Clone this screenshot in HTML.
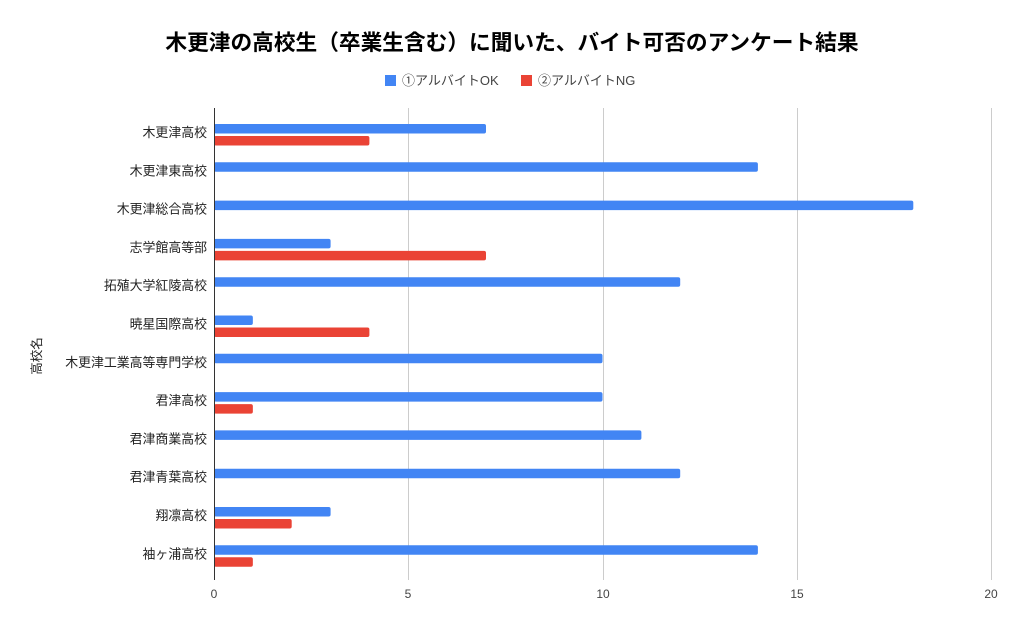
<!DOCTYPE html>
<html><head><meta charset="utf-8"><style>
body{margin:0;background:#fff;}
text{font-family:"Liberation Sans","Noto Sans CJK JP",sans-serif;}
</style></head><body>
<svg width="1024" height="633" xmlns="http://www.w3.org/2000/svg">
<rect width="1024" height="633" fill="#fff"/>
<text x="512" y="50" text-anchor="middle" font-size="21.7" font-weight="bold" fill="#000">木更津の高校生（卒業生含む）に聞いた、バイト可否のアンケート結果</text>
<rect x="385" y="75" width="11" height="11" fill="#4285f4"/>
<text x="402" y="85" font-size="13" fill="#444">①アルバイトOK</text>
<rect x="521" y="75" width="11" height="11" fill="#ea4335"/>
<text x="538" y="85" font-size="13" fill="#444">②アルバイトNG</text>
<g stroke="#ccc" stroke-width="1">
<line x1="408.5" y1="108" x2="408.5" y2="580"/>
<line x1="603.5" y1="108" x2="603.5" y2="580"/>
<line x1="797.5" y1="108" x2="797.5" y2="580"/>
<line x1="991.5" y1="108" x2="991.5" y2="580"/>
</g>
<g font-size="12" fill="#444" text-anchor="middle">
<text x="214" y="598">0</text><text x="408" y="598">5</text><text x="603" y="598">10</text><text x="797" y="598">15</text><text x="991" y="598">20</text>
</g>
<text transform="translate(41,356) rotate(-90)" font-size="12.5" fill="#222" text-anchor="middle">高校名</text>
<g font-size="12.9" fill="#222" text-anchor="end">
<text x="207" y="137">木更津高校</text>
<text x="207" y="175.3">木更津東高校</text>
<text x="207" y="213.6">木更津総合高校</text>
<text x="207" y="251.9">志学館高等部</text>
<text x="207" y="290.2">拓殖大学紅陵高校</text>
<text x="207" y="328.5">暁星国際高校</text>
<text x="207" y="366.8">木更津工業高等専門学校</text>
<text x="207" y="405.1">君津高校</text>
<text x="207" y="443.4">君津商業高校</text>
<text x="207" y="481.7">君津青葉高校</text>
<text x="207" y="520">翔凛高校</text>
<text x="207" y="558.3">袖ヶ浦高校</text>
</g>
<g fill="#4285f4">
<rect x="214" y="124" width="272" height="9.5" rx="2"/>
<rect x="214" y="162.3" width="543.9" height="9.5" rx="2"/>
<rect x="214" y="200.6" width="699.3" height="9.5" rx="2"/>
<rect x="214" y="238.9" width="116.6" height="9.5" rx="2"/>
<rect x="214" y="277.2" width="466.2" height="9.5" rx="2"/>
<rect x="214" y="315.5" width="38.85" height="9.5" rx="2"/>
<rect x="214" y="353.8" width="388.5" height="9.5" rx="2"/>
<rect x="214" y="392.1" width="388.5" height="9.5" rx="2"/>
<rect x="214" y="430.4" width="427.4" height="9.5" rx="2"/>
<rect x="214" y="468.7" width="466.2" height="9.5" rx="2"/>
<rect x="214" y="507" width="116.6" height="9.5" rx="2"/>
<rect x="214" y="545.3" width="543.9" height="9.5" rx="2"/>
</g>
<g fill="#ea4335">
<rect x="214" y="136" width="155.4" height="9.5" rx="2"/>
<rect x="214" y="250.9" width="272" height="9.5" rx="2"/>
<rect x="214" y="327.5" width="155.4" height="9.5" rx="2"/>
<rect x="214" y="404.1" width="38.85" height="9.5" rx="2"/>
<rect x="214" y="519" width="77.7" height="9.5" rx="2"/>
<rect x="214" y="557.3" width="38.85" height="9.5" rx="2"/>
</g>
<line x1="214.5" y1="108" x2="214.5" y2="580" stroke="#333" stroke-width="1"/>
</svg>
</body></html>
